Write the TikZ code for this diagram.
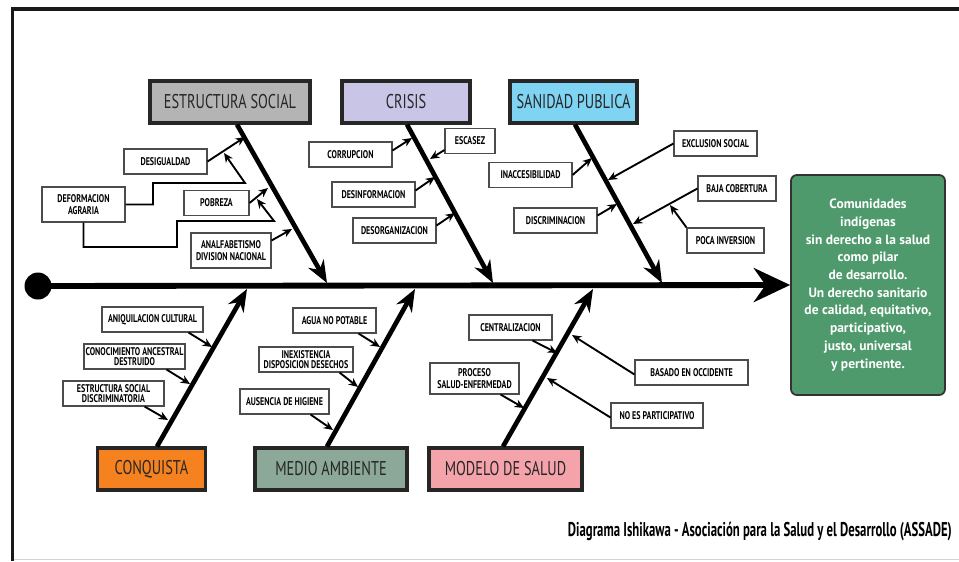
\documentclass[tikz,border=0pt]{standalone}
\usepackage{fontspec}
\setmainfont{PT Sans}
\newfontfamily\condfont{PT Sans}[FakeStretch=0.72]
\newfontfamily\capfont{PT Sans}[FakeStretch=0.64]
\usetikzlibrary{arrows.meta,calc}
\newdimen\pxu
\pxu=0.03cm
\definecolor{grisest}{HTML}{B4B4B4}
\definecolor{lilacrisis}{HTML}{C9C5E6}
\definecolor{celeste}{HTML}{7ED4F2}
\definecolor{naranja}{HTML}{F5821F}
\definecolor{verdegris}{HTML}{8CA898}
\definecolor{rosa}{HTML}{F4A3AA}
\definecolor{verdecab}{HTML}{4E9A6C}
\tikzset{
 categ/.style={draw=black!85,line width=2.6pt,inner sep=0pt,minimum height=42\pxu,text=black!85,font=\condfont\fontsize{17}{17}\selectfont},
 causa/.style={draw=black!70,line width=0.9pt,fill=white,inner sep=0pt,minimum height=25\pxu,align=center,font=\condfont\bfseries\fontsize{9.5}{10.2}\selectfont},
 espina/.style={line width=5pt,-{Stealth[length=31pt,width=29pt]}},
 hueso/.style={line width=4pt,-{Stealth[length=19pt,width=15pt]}},
 flecha/.style={line width=1.6pt,-{Stealth[length=8pt,width=7pt]}},
}
\begin{document}
\begin{tikzpicture}[x=0.03cm,y=-0.03cm]
\useasboundingbox (0,0) rectangle (959,561);
\fill[white] (0,0) rectangle (959,561);
\draw[line width=2.8pt,black!90] (959,9) -- (12.5,9) -- (12.5,561);
\draw[gray!35,line width=0.8pt] (14,559.5) -- (959,559.5);

\node[categ,fill=grisest,minimum width=160\pxu] (es) at (230,102) {ESTRUCTURA SOCIAL};
\node[categ,fill=lilacrisis,minimum width=128\pxu] (cr) at (406,102) {CRISIS};
\node[categ,fill=celeste,minimum width=127\pxu] (sp) at (573.5,102) {SANIDAD PUBLICA};
\node[categ,fill=naranja,minimum width=108\pxu] (co) at (151.5,469) {CONQUISTA};
\node[categ,fill=verdegris,minimum width=152\pxu] (ma) at (331,469) {MEDIO AMBIENTE};
\node[categ,fill=rosa,minimum width=153\pxu] (ms) at (505.5,469) {MODELO DE SALUD};

\node[circle,fill=black,minimum size=27\pxu,inner sep=0pt] (raiz) at (38,286) {};
\node[draw=black!80,line width=1.5pt,rounded corners=5pt,fill=verdecab,text=white,
 minimum width=154\pxu,minimum height=220\pxu,align=center,
 font=\bfseries\fontsize{11.5}{15.1}\selectfont] (cab) at (868,285)
 {Comunidades\\indígenas\\sin derecho a la salud\\como pilar\\de desarrollo.\\Un derecho sanitario\\de calidad, equitativo,\\participativo,\\justo, universal\\y pertinente.};

\node[causa,minimum width=83\pxu] (desig) at (165.5,161.5) {DESIGUALDAD};
\node[causa,minimum width=83\pxu,minimum height=35\pxu] (deform) at (83.5,204.5) {DEFORMACION\\AGRARIA};
\node[causa,minimum width=65\pxu] (pobreza) at (216.5,203) {POBREZA};
\node[causa,minimum width=80\pxu,minimum height=35\pxu] (analf) at (231,250.5) {ANALFABETISMO\\DIVISION NACIONAL};
\node[causa,minimum width=83\pxu] (corrup) at (350.5,154.5) {CORRUPCION};
\node[causa,minimum width=50\pxu] (escasez) at (470,141) {ESCASEZ};
\node[causa,minimum width=83\pxu] (desinf) at (373.5,194.5) {DESINFORMACION};
\node[causa,minimum width=83\pxu] (desorg) at (394.5,230.5) {DESORGANIZACION};
\node[causa,minimum width=83\pxu] (inacc) at (530.5,175) {INACCESIBILIDAD};
\node[causa,minimum width=83\pxu] (exclus) at (715.5,143.5) {EXCLUSION SOCIAL};
\node[causa,minimum width=78\pxu] (baja) at (737,188.5) {BAJA COBERTURA};
\node[causa,minimum width=83\pxu] (discrim) at (555.5,220.5) {DISCRIMINACION};
\node[causa,minimum width=77\pxu] (poca) at (725.5,240.5) {POCA INVERSION};
\node[causa,minimum width=101\pxu] (aniq) at (152.5,319.5) {ANIQUILACION CULTURAL};
\node[causa,minimum width=101\pxu] (conoc) at (134.5,356.5) {CONOCIMIENTO ANCESTRAL\\[-2pt]DESTRUIDO};
\node[causa,minimum width=101\pxu] (estdisc) at (113.5,393.5) {ESTRUCTURA SOCIAL\\[-2pt]DISCRIMINATORIA};
\node[causa,minimum width=83\pxu] (agua) at (334.5,320.5) {AGUA NO POTABLE};
\node[causa,minimum width=94\pxu] (inex) at (306,359.5) {INEXISTENCIA\\[-2pt]DISPOSICION DESECHOS};
\node[causa,minimum width=89\pxu] (ausen) at (284.5,401.5) {AUSENCIA DE HIGIENE};
\node[causa,minimum width=83\pxu] (centr) at (510.5,327.5) {CENTRALIZACION};
\node[causa,minimum width=89\pxu,minimum height=31\pxu] (proceso) at (474.5,378.5) {PROCESO\\SALUD-ENFERMEDAD};
\node[causa,minimum width=113\pxu] (basado) at (691.5,372.5) {BASADO EN OCCIDENTE};
\node[causa,minimum width=92\pxu] (noes) at (657,415.5) {NO ES PARTICIPATIVO};

\node[anchor=east,font=\capfont\bfseries\fontsize{17}{17}\selectfont] (pie) at (956,532) {Diagrama Ishikawa - Asociación para la Salud y el Desarrollo (ASSADE)};

\coordinate (t1) at (327,283);
\coordinate (t2) at (493,283);
\coordinate (t3) at (662,283);
\coordinate (t4) at (247,289);
\coordinate (t5) at (415,289);
\coordinate (t6) at (593,289);
\coordinate (p1) at (245,137);
\coordinate (p2) at (224,153);
\coordinate (p3) at (268,188);
\coordinate (p4) at (257,199);
\coordinate (p5) at (292,229);
\coordinate (p6) at (412,138);
\coordinate (p7) at (430,159);
\coordinate (p8) at (435,177);
\coordinate (p9) at (455,213);
\coordinate (p10) at (592,158);
\coordinate (p11) at (608,180);
\coordinate (p12) at (633,224);
\coordinate (p13) at (617,204);
\coordinate (p14) at (670,205);
\coordinate (p15) at (212,347);
\coordinate (p16) at (190,384);
\coordinate (p17) at (168,420);
\coordinate (p18) at (380,347);
\coordinate (p19) at (358,387);
\coordinate (p20) at (333,430);
\coordinate (p21) at (557,353);
\coordinate (p22) at (524,408);
\coordinate (p23) at (572,335);
\coordinate (p24) at (547,378);

\draw[espina] (raiz.center) -- (cab.west);
\draw[hueso] ($(es.south)+(7,0)$) -- (t1);
\draw[hueso] ($(cr.south)+(1,0)$) -- (t2);
\draw[hueso] ($(sp.south)+(1.5,0)$) -- (t3);
\draw[hueso] ($(co.north)+(5.5,0)$) -- (t4);
\draw[hueso] ($(ma.north)+(-4,0)$) -- (t5);
\draw[hueso] ($(ms.north)+(-2.5,0)$) -- (t6);

\draw[flecha] (desig.east) -- (p1);
\draw[flecha] (deform.east) -| (153,183) -- (245,183) -- (p2);
\draw[flecha] (deform.south) |- (177,247) |- (274,221) -- (p4);
\draw[flecha] (pobreza.east) -- (p3);
\draw[flecha] ($(analf.east)+(0,-10)$) -- (p5);
\draw[flecha] ($(corrup.east)+(0,-4)$) -- (p6);
\draw[flecha] ($(escasez.west)+(0,9)$) -- (p7);
\draw[flecha] ($(desinf.east)+(0,-4)$) -- (p8);
\draw[flecha] ($(desorg.east)+(0,-5)$) -- (p9);
\draw[flecha] (inacc.east) -- (p10);
\draw[flecha] (exclus.west) -- (p11);
\draw[flecha] (baja.west) -- (p12);
\draw[flecha] ($(discrim.east)+(0,-5)$) -- (p13);
\draw[flecha] (poca.north west) -- (p14);
\draw[flecha] ($(aniq.south east)+(-15,0)$) -- (p15);
\draw[flecha] ($(conoc.south east)+(-19,0)$) -- (p16);
\draw[flecha] ($(estdisc.south east)+(-20,0)$) -- (p17);
\draw[flecha] ($(agua.south east)+(-18,0)$) -- (p18);
\draw[flecha] ($(inex.south east)+(-14,0)$) -- (p19);
\draw[flecha] ($(ausen.south east)+(-19,0)$) -- (p20);
\draw[flecha] ($(centr.south east)+(-20,0)$) -- (p21);
\draw[flecha] ($(proceso.south east)+(-19,0)$) -- (p22);
\draw[flecha] ($(basado.west)+(0,2)$) -- (p23);
\draw[flecha] ($(noes.west)+(0,2)$) -- (p24);
\end{tikzpicture}
\end{document}
